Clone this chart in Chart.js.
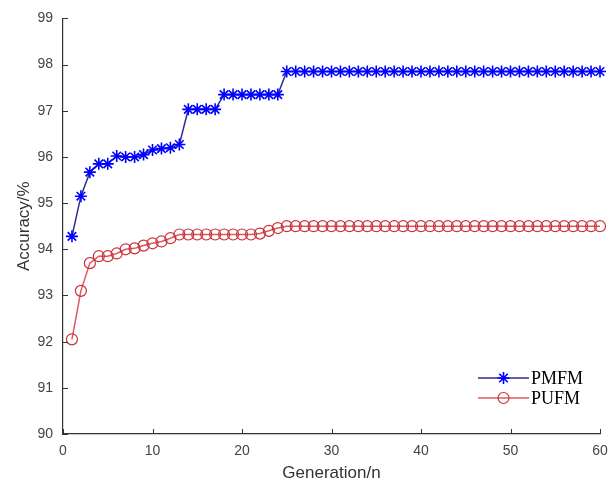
<!DOCTYPE html>
<html>
<head>
<meta charset="utf-8">
<script src="https://cdn.jsdelivr.net/npm/chart.js@4"></script>
<style>
  html, body { margin: 0; padding: 0; background: #fff; }
  #wrap { width: 610px; height: 491px; }
</style>
</head>
<body>
<div id="wrap"><canvas id="acc-ctx"></canvas></div>
<script>
// DATA
const GENERATIONS = [1, 2, 3, 4, 5, 6, 7, 8, 9, 10, 11, 12, 13, 14, 15, 16, 17, 18, 19, 20,
  21, 22, 23, 24, 25, 26, 27, 28, 29, 30, 31, 32, 33, 34, 35, 36, 37, 38, 39, 40,
  41, 42, 43, 44, 45, 46, 47, 48, 49, 50, 51, 52, 53, 54, 55, 56, 57, 58, 59, 60];

const PMFM = [94.28, 95.15, 95.67, 95.85, 95.85, 96.02, 96.0, 96.0, 96.05, 96.15,
  96.18, 96.2, 96.27, 97.03, 97.03, 97.03, 97.03, 97.35, 97.35, 97.35,
  97.35, 97.35, 97.35, 97.35, 97.85, 97.85, 97.85, 97.85, 97.85, 97.85,
  97.85, 97.85, 97.85, 97.85, 97.85, 97.85, 97.85, 97.85, 97.85, 97.85,
  97.85, 97.85, 97.85, 97.85, 97.85, 97.85, 97.85, 97.85, 97.85, 97.85,
  97.85, 97.85, 97.85, 97.85, 97.85, 97.85, 97.85, 97.85, 97.85, 97.85];

const PUFM = [92.05, 93.1, 93.7, 93.85, 93.85, 93.91, 94.0, 94.02, 94.08, 94.13,
  94.17, 94.24, 94.32, 94.32, 94.32, 94.32, 94.32, 94.32, 94.32, 94.32,
  94.32, 94.34, 94.4, 94.46, 94.5, 94.5, 94.5, 94.5, 94.5, 94.5,
  94.5, 94.5, 94.5, 94.5, 94.5, 94.5, 94.5, 94.5, 94.5, 94.5,
  94.5, 94.5, 94.5, 94.5, 94.5, 94.5, 94.5, 94.5, 94.5, 94.5,
  94.5, 94.5, 94.5, 94.5, 94.5, 94.5, 94.5, 94.5, 94.5, 94.5];

const X_TICKS = [0, 10, 20, 30, 40, 50, 60];
const Y_TICKS = [90, 91, 92, 93, 94, 95, 96, 97, 98, 99];

const toPoints = (vals) => GENERATIONS.map((g, i) => ({x: g, y: vals[i]}));

// inward tick marks, like matlab axes
const inwardTicks = {
  id: 'inwardTicks',
  afterDatasetsDraw(chart) {
    const {ctx, chartArea, scales} = chart;
    ctx.save();
    ctx.strokeStyle = '#333';
    ctx.lineWidth = 1;
    ctx.beginPath();
    X_TICKS.forEach(v => {
      const x = Math.round(scales.x.getPixelForValue(v)) + 0.5;
      ctx.moveTo(x, chartArea.bottom);
      ctx.lineTo(x, chartArea.bottom - 5);
    });
    Y_TICKS.forEach(v => {
      const y = Math.round(scales.y.getPixelForValue(v)) + 0.5;
      ctx.moveTo(chartArea.left, y);
      ctx.lineTo(chartArea.left + 5, y);
    });
    ctx.stroke();
    ctx.restore();
  }
};

// legend: line with the marker in the middle
const lineLegend = {
  id: 'lineLegend',
  afterDraw(chart) {
    const {ctx} = chart;
    const x0 = 478, x1 = 529, y0 = 378, gap = 20;
    ctx.save();
    chart.data.datasets.forEach((ds, i) => {
      const y = y0 + i * gap;
      ctx.strokeStyle = ds.borderColor;
      ctx.lineWidth = ds.borderWidth;
      ctx.beginPath();
      ctx.moveTo(x0, y);
      ctx.lineTo(x1, y);
      ctx.stroke();

      ctx.strokeStyle = ds.pointBorderColor;
      ctx.fillStyle = ds.pointBackgroundColor;
      ctx.lineWidth = ds.pointBorderWidth;
      Chart.helpers.drawPoint(ctx, {
        pointStyle: ds.pointStyle,
        radius: ds.pointRadius,
        borderWidth: ds.pointBorderWidth,
        rotation: 0
      }, (x0 + x1) / 2, y);

      ctx.fillStyle = '#000';
      ctx.font = '18px "Liberation Serif", "Times New Roman", serif';
      ctx.textBaseline = 'middle';
      ctx.fillText(ds.label, x1 + 2, y + 1);
    });
    ctx.restore();
  }
};

new Chart(document.getElementById('acc-ctx'), {
  type: 'line',
  data: {
    datasets: [{
      label: 'PMFM',
      data: toPoints(PMFM),
      borderColor: '#2c2c96',
      borderWidth: 1.5,
      pointStyle: 'star',
      pointRadius: 6,
      pointBorderWidth: 1.6,
      pointBorderColor: '#0000ff',
      pointBackgroundColor: '#0000ff',
      clip: false
    }, {
      label: 'PUFM',
      data: toPoints(PUFM),
      borderColor: '#dd5a60',
      borderWidth: 1.5,
      pointStyle: 'circle',
      pointRadius: 5.5,
      pointBorderWidth: 1.2,
      pointBorderColor: '#c8323c',
      pointBackgroundColor: 'rgba(255,255,255,0)',
      clip: false
    }]
  },
  options: {
    responsive: true,
    maintainAspectRatio: false,
    animation: false,
    layout: {
      padding: {top: 15, right: 10, bottom: 7, left: 0}
    },
    plugins: {
      legend: {display: false},
      tooltip: {enabled: false}
    },
    scales: {
      x: {
        type: 'linear',
        min: 0,
        max: 60,
        afterBuildTicks: (scale) => { scale.ticks = X_TICKS.map(v => ({value: v})); },
        afterFit: (scale) => {
          scale.height = 50;
          scale.paddingLeft = 0;
          scale.paddingRight = 0;
        },
        grid: {drawOnChartArea: false, drawTicks: false},
        border: {display: true, color: '#333', width: 1.2},
        ticks: {
          padding: 9,
          color: '#444',
          font: {family: '"Liberation Sans", Arial, sans-serif', size: 14}
        },
        title: {
          display: true,
          text: 'Generation/n',
          color: '#333',
          padding: {top: 0, bottom: 0},
          font: {family: '"Liberation Sans", Arial, sans-serif', size: 17}
        }
      },
      y: {
        type: 'linear',
        min: 90,
        max: 99,
        afterBuildTicks: (scale) => { scale.ticks = Y_TICKS.map(v => ({value: v})); },
        afterFit: (scale) => { scale.width = 63; },
        grid: {drawOnChartArea: false, drawTicks: false},
        border: {display: true, color: '#333', width: 1.2},
        ticks: {
          padding: 10,
          color: '#444',
          font: {family: '"Liberation Sans", Arial, sans-serif', size: 14}
        },
        title: {
          display: true,
          text: 'Accuracy/%',
          color: '#333',
          padding: {top: 14, bottom: 0},
          font: {family: '"Liberation Sans", Arial, sans-serif', size: 17}
        }
      }
    }
  },
  plugins: [inwardTicks, lineLegend]
});
</script>
</body>
</html>
